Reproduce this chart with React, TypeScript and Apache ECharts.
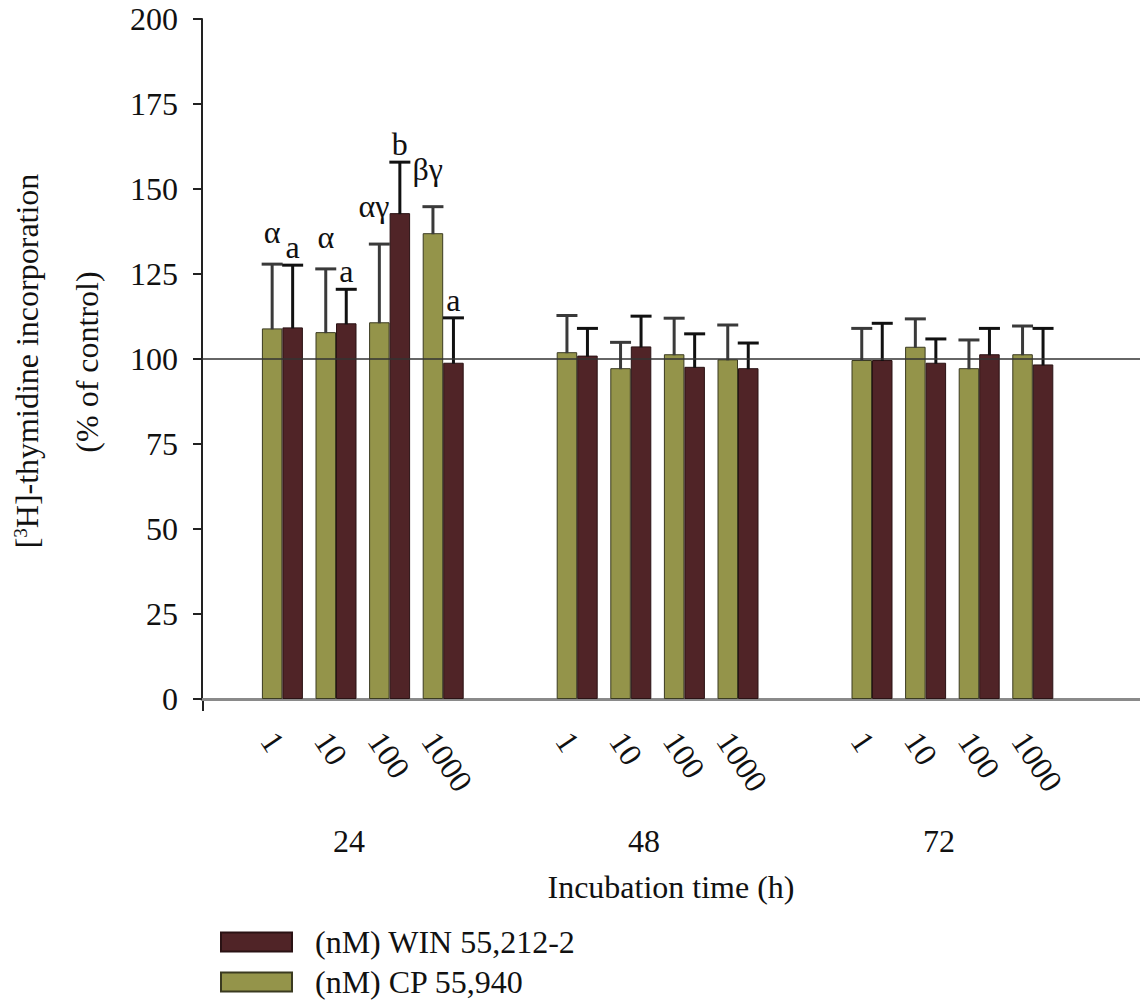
import React, { useEffect, useRef } from "react";
import * as echarts from "echarts";

const TIMES = ["24", "48", "72"];
const DOSES = ["1", "10", "100", "1000"];
const Y_TICKS = [0, 25, 50, 75, 100, 125, 150, 175, 200];

const CP_MEAN = [
  [109.0, 107.9, 110.8, 137.0],
  [102.0, 97.3, 101.4, 99.9],
  [99.7, 103.6, 97.3, 101.4],
];
const CP_ERR = [
  [18.9, 18.6, 23.0, 7.8],
  [10.8, 7.6, 10.6, 10.1],
  [9.3, 8.2, 8.3, 8.3],
];
const WIN_MEAN = [
  [109.3, 110.5, 142.9, 98.9],
  [101.0, 103.7, 97.7, 97.3],
  [99.7, 98.9, 101.4, 98.4],
];
const WIN_ERR = [
  [18.3, 10.0, 15.0, 13.2],
  [8.0, 8.9, 9.7, 7.4],
  [10.8, 7.0, 7.6, 10.6],
];
const CP_NOTES = [
  ["α", "α", "αγ", "βγ"],
  ["", "", "", ""],
  ["", "", "", ""],
];
const WIN_NOTES = [
  ["a", "a", "b", "a"],
  ["", "", "", ""],
  ["", "", "", ""],
];

const CP_NAME = "(nM) CP 55,940";
const WIN_NAME = "(nM) WIN 55,212-2";

const N_SLOTS = 36;
const slotOf = (g: number, d: number) => 3 + g * 11 + d * 2;

const FONT = "Liberation Serif";
const OLIVE = "#94944a";
const MAROON = "#502427";
const BAR_W = 20.5;

export default function App() {
  const ref = useRef<HTMLDivElement>(null);

  useEffect(() => {
    if (!ref.current) return;
    const chart = echarts.init(ref.current, undefined, { renderer: "svg" });

    const slotCats: string[] = Array.from({ length: N_SLOTS }, (_, i) => "s" + i);
    const doseCats: string[] = Array.from({ length: N_SLOTS }, () => "");
    const timeCats: string[] = Array.from({ length: N_SLOTS }, () => "");
    const cpBars: (number | null)[] = Array(N_SLOTS).fill(null);
    const winBars: (number | null)[] = Array(N_SLOTS).fill(null);
    const cpErr: any[] = [];
    const winErr: any[] = [];
    const cpNotes: string[] = [];
    const winNotes: string[] = [];

    TIMES.forEach((t, g) => {
      timeCats[slotOf(g, 0) + 3] = t;
      DOSES.forEach((d, k) => {
        const s = slotOf(g, k);
        doseCats[s] = d;
        cpBars[s] = CP_MEAN[g][k];
        winBars[s] = WIN_MEAN[g][k];
        cpErr.push([s, CP_MEAN[g][k], CP_MEAN[g][k] + CP_ERR[g][k]]);
        winErr.push([s, WIN_MEAN[g][k], WIN_MEAN[g][k] + WIN_ERR[g][k]]);
        cpNotes.push(CP_NOTES[g][k]);
        winNotes.push(WIN_NOTES[g][k]);
      });
    });

    const makeErr = (offset: number, color: string, notes: string[], noteGap: number) =>
      (params: any, api: any) => {
        const idx = api.value(0);
        const base = api.coord([idx, api.value(1)]);
        const top = api.coord([idx, api.value(2)]);
        const x = base[0] + offset;
        const children: any[] = [
          {
            type: "line",
            shape: { x1: x, y1: base[1] + 1, x2: x, y2: top[1] },
            style: { stroke: color, lineWidth: 3 },
          },
          {
            type: "line",
            shape: { x1: x - 10.5, y1: top[1], x2: x + 10.5, y2: top[1] },
            style: { stroke: color, lineWidth: 3 },
          },
        ];
        const note = notes[params.dataIndex];
        if (note) {
          const multi = note.length > 1;
          children.push({
            type: "text",
            x: multi ? x + 10 : x,
            y: top[1] - noteGap - (multi ? 6 : 0),
            style: {
              text: note,
              fill: "#111",
              fontSize: 32,
              fontFamily: FONT,
              align: multi ? "right" : "center",
              verticalAlign: "bottom",
            },
          });
        }
        return { type: "group", children };
      };

    const gridLeft = 202;
    const gridW = 938.7;
    const gridTop = 19;
    const gridH = 680;

    chart.setOption({
      animation: false,
      backgroundColor: "#ffffff",
      textStyle: { fontFamily: FONT, color: "#111" },
      grid: [
        { left: gridLeft, top: gridTop, width: gridW, height: gridH },
        { left: gridLeft - 14, top: gridTop, width: gridW, height: gridH },
      ],
      legend: {
        orient: "vertical",
        left: 220,
        top: 926,
        height: 80,
        padding: 0,
        itemWidth: 71,
        itemHeight: 19,
        itemGap: 8,
        icon: "rect",
        data: [WIN_NAME, CP_NAME],
        textStyle: {
          fontFamily: FONT,
          fontSize: 32,
          lineHeight: 32,
          color: "#111",
          padding: [0, 0, 0, 18],
        },
      },
      xAxis: [
        {
          type: "category",
          gridIndex: 0,
          data: slotCats,
          boundaryGap: false,
          axisLine: { lineStyle: { color: "#8a8a8a", width: 3 } },
          axisTick: { show: false },
          axisLabel: { show: false },
          splitLine: { show: false },
          name: "Incubation time (h)",
          nameLocation: "middle",
          nameGap: 172,
          nameTextStyle: { fontFamily: FONT, fontSize: 32, color: "#111" },
        },
        {
          type: "category",
          gridIndex: 1,
          data: doseCats,
          boundaryGap: false,
          axisLine: { show: false },
          axisTick: { show: false },
          axisLabel: {
            interval: 0,
            rotate: -56,
            margin: 36,
            fontFamily: FONT,
            fontSize: 32,
            color: "#111",
          },
        },
        {
          type: "category",
          gridIndex: 1,
          data: timeCats,
          boundaryGap: false,
          position: "bottom",
          axisLine: { show: false },
          axisTick: { show: false },
          axisLabel: {
            interval: 0,
            margin: 126,
            fontFamily: FONT,
            fontSize: 32,
            color: "#111",
          },
        },
      ],
      yAxis: [
        {
          type: "value",
          gridIndex: 0,
          min: 0,
          max: 200,
          interval: 25,
          axisLine: { show: true, lineStyle: { color: "#222", width: 2 } },
          axisTick: { show: true, length: 9, lineStyle: { color: "#222", width: 2 } },
          axisLabel: {
            margin: 24,
            fontFamily: FONT,
            fontSize: 32,
            color: "#111",
            formatter: (v: number) => (Y_TICKS.includes(v) ? String(v) : ""),
          },
          splitLine: { show: false },
        },
        {
          type: "value",
          gridIndex: 1,
          min: 0,
          max: 200,
          show: false,
        },
      ],
      graphic: [
        {
          type: "text",
          x: 27,
          y: 361,
          rotation: Math.PI / 2,
          style: {
            text: "[{sup|3}H]-thymidine incorporation",
            fontSize: 32,
            fontFamily: FONT,
            fill: "#111",
            align: "center",
            verticalAlign: "middle",
            rich: {
              sup: { fontSize: 19, fontFamily: FONT, verticalAlign: "top", padding: [0, 0, 12, 0] },
            },
          },
        },
        {
          type: "text",
          x: 87,
          y: 362,
          rotation: Math.PI / 2,
          style: {
            text: "(% of control)",
            fontSize: 32,
            fontFamily: FONT,
            fill: "#111",
            align: "center",
            verticalAlign: "middle",
          },
        },
        {
          type: "line",
          shape: { x1: gridLeft + 1, y1: gridTop + gridH, x2: gridLeft + 1, y2: gridTop + gridH + 12 },
          style: { stroke: "#222", lineWidth: 2 },
        },
      ],
      series: [
        {
          name: CP_NAME,
          type: "bar",
          xAxisIndex: 0,
          yAxisIndex: 0,
          data: cpBars,
          barWidth: BAR_W,
          barGap: "0%",
          itemStyle: { color: OLIVE, borderColor: "#3a3a20", borderWidth: 1 },
          z: 2,
        },
        {
          name: WIN_NAME,
          type: "bar",
          xAxisIndex: 0,
          yAxisIndex: 0,
          data: winBars,
          barWidth: BAR_W,
          barGap: "0%",
          itemStyle: { color: MAROON, borderColor: "#2a1214", borderWidth: 1 },
          z: 2,
        },
        {
          type: "custom",
          xAxisIndex: 0,
          yAxisIndex: 0,
          data: cpErr,
          encode: { x: 0, y: [1, 2] },
          renderItem: makeErr(-BAR_W / 2, "#3a3a3a", cpNotes, 16),
          z: 4,
          silent: true,
        },
        {
          type: "custom",
          xAxisIndex: 0,
          yAxisIndex: 0,
          data: winErr,
          encode: { x: 0, y: [1, 2] },
          renderItem: makeErr(BAR_W / 2, "#111", winNotes, 2),
          z: 4,
          silent: true,
          markLine: {
            silent: true,
            symbol: "none",
            label: { show: false },
            lineStyle: { color: "#333", width: 1.5, type: "solid" },
            data: [{ yAxis: 100 }],
            z: 5,
          },
        },
      ],
    });

    return () => chart.dispose();
  }, []);

  return (
    <div
      ref={ref}
      style={{ position: "absolute", left: 0, top: 0, width: 1140, height: 1001 }}
    />
  );
}
